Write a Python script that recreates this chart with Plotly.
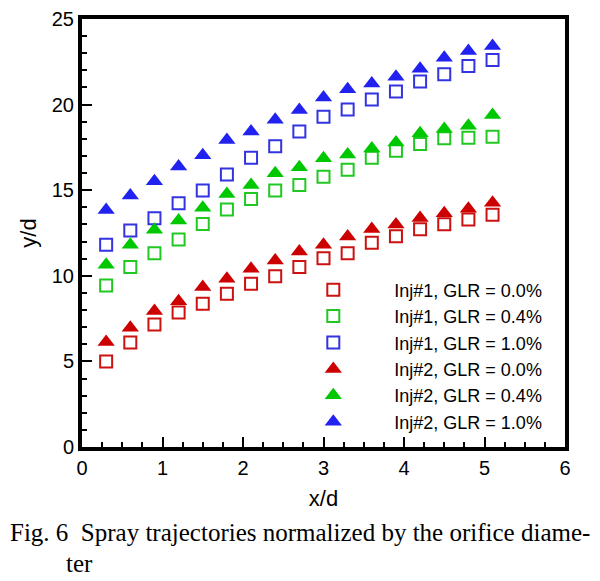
import plotly.graph_objects as go

x = [0.3, 0.6, 0.9, 1.2, 1.5, 1.8, 2.1, 2.4, 2.7, 3.0, 3.3, 3.6, 3.9, 4.2, 4.5, 4.8, 5.1]

inj1_glr00 = [5.0, 6.1, 7.15, 7.85, 8.37, 8.95, 9.54, 9.98, 10.51, 11.03, 11.32, 11.93, 12.31, 12.72, 13.01, 13.29, 13.56]
inj1_glr04 = [9.44, 10.51, 11.32, 12.12, 13.03, 13.87, 14.49, 14.98, 15.31, 15.79, 16.2, 16.9, 17.3, 17.7, 18.03, 18.07, 18.12]
inj1_glr10 = [11.81, 12.65, 13.36, 14.24, 14.98, 15.91, 16.9, 17.56, 18.43, 19.29, 19.72, 20.3, 20.76, 21.35, 21.78, 22.26, 22.61]
inj2_glr00 = [6.14, 6.97, 7.94, 8.51, 9.34, 9.83, 10.41, 10.9, 11.42, 11.81, 12.3, 12.74, 13.0, 13.37, 13.66, 13.91, 14.26]
inj2_glr04 = [10.65, 11.81, 12.69, 13.23, 13.97, 14.78, 15.31, 15.99, 16.34, 16.87, 17.09, 17.44, 17.79, 18.32, 18.57, 18.76, 19.39]
inj2_glr10 = [13.85, 14.69, 15.52, 16.38, 17.04, 17.93, 18.43, 19.11, 19.68, 20.41, 20.9, 21.23, 21.62, 22.1, 22.74, 23.13, 23.43]

names = ["Inj#1, GLR = 0.0%", "Inj#1, GLR = 0.4%", "Inj#1, GLR = 1.0%",
         "Inj#2, GLR = 0.0%", "Inj#2, GLR = 0.4%", "Inj#2, GLR = 1.0%"]
series = [inj1_glr00, inj1_glr04, inj1_glr10, inj2_glr00, inj2_glr04, inj2_glr10]
colors_sq = ["#CC1111", "#22C822", "#3333E0"]
colors_tri = ["#CC0000", "#00C800", "#2222F0"]

x_ticks = [0, 1, 2, 3, 4, 5, 6]
y_ticks = [0, 5, 10, 15, 20, 25]

fig = go.Figure()
for i, (nm, ys) in enumerate(zip(names, series)):
    if i < 3:
        marker = dict(symbol="square-open", size=12, color=colors_sq[i], line=dict(width=2, color=colors_sq[i]))
    else:
        marker = dict(symbol="triangle-up", size=15, color=colors_tri[i - 3], line=dict(width=0))
    fig.add_trace(go.Scatter(x=x, y=ys, mode="markers", name=nm, marker=marker))

axis_common = dict(
    showline=True, linecolor="black", linewidth=4, mirror=True,
    ticks="inside", ticklen=10, tickwidth=2, tickcolor="black",
    showgrid=False, zeroline=False, automargin=False,
    tickfont=dict(family="Liberation Sans, Arial", size=20, color="black"),
)
fig.update_xaxes(range=[0, 6], tickvals=x_ticks, ticktext=[str(v) for v in x_ticks],
                 minor=dict(dtick=0.25, ticks="inside", ticklen=5, tickwidth=2, tickcolor="black"),
                 title=dict(text="x/d", font=dict(family="Liberation Sans, Arial", size=22, color="black"), standoff=14),
                 **axis_common)
fig.update_yaxes(range=[0, 25], tickvals=y_ticks, ticktext=[str(v) for v in y_ticks],
                 minor=dict(dtick=1, ticks="inside", ticklen=5, tickwidth=2, tickcolor="black"),
                 title=dict(text="y/d", font=dict(family="Liberation Sans, Arial", size=22, color="black"), standoff=10),
                 **axis_common)

fig.update_layout(
    width=592, height=573,
    margin=dict(l=74, r=35, t=11, b=134, autoexpand=False),
    paper_bgcolor="white", plot_bgcolor="white",
    showlegend=True,
    legend=dict(x=0.394, y=0.41, xanchor="left", yanchor="top", bgcolor="rgba(0,0,0,0)",
                font=dict(family="Liberation Sans, Arial", size=18, color="black"),
                itemwidth=112, tracegroupgap=0),
    annotations=[
        dict(text="Fig. 6  Spray trajectories normalized by the orifice diame-", xref="paper", yref="paper",
             x=-74/483, y=-85/428, xanchor="left", yanchor="middle", showarrow=False,
             font=dict(family="Liberation Serif, Times New Roman", size=25, color="black")),
        dict(text="ter", xref="paper", yref="paper",
             x=(64-82)/483, y=-116/428, xanchor="left", yanchor="middle", showarrow=False,
             font=dict(family="Liberation Serif, Times New Roman", size=25, color="black")),
    ],
)

fig.write_html("out.html")
